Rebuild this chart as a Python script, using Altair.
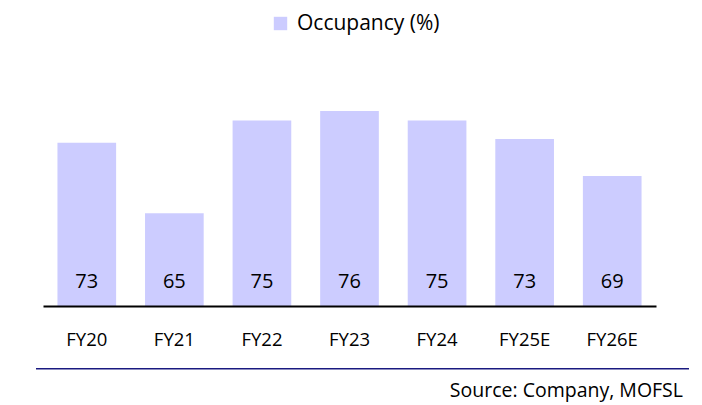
import altair as alt
import pandas as pd

years = ["FY20", "FY21", "FY22", "FY23", "FY24", "FY25E", "FY26E"]
occupancy = [72.6, 65.0, 75.0, 76.0, 75.0, 73.0, 69.0]
labels = ["73", "65", "75", "76", "75", "73", "69"]
series_name = "Occupancy (%)"
source_note = "Source: Company, MOFSL"

df = pd.DataFrame({
    "year": years,
    "occ": occupancy,
    "label": labels,
    "series": [series_name] * len(years),
})

FONT = "Open Sans"
BAR = "#CCCCFF"

x_enc = alt.X(
    "year:N", sort=years,
    scale=alt.Scale(paddingInner=0.33, paddingOuter=0.165),
    axis=alt.Axis(title=None, labelAngle=0, labelFont=FONT, labelFontSize=18.5,
                  labelColor="black", domainColor="black", domainWidth=2,
                  ticks=False, tickSize=0, labelPadding=39,
                  labelBaseline="alphabetic", grid=False, zindex=1),
)
y_scale = alt.Scale(domain=[55, 80], zero=False, nice=False, clamp=True)

base = alt.Chart(df)

bars = base.mark_bar().encode(
    x=x_enc,
    y=alt.Y("occ:Q", scale=y_scale, axis=None),
    y2=alt.Y2Datum(55),
    color=alt.Color(
        "series:N",
        scale=alt.Scale(range=[BAR]),
        legend=alt.Legend(
            title=None, orient="none", legendX=227, legendY=-61,
            symbolType="square", symbolSize=180, symbolStrokeWidth=0,
            labelFont=FONT, labelFontSize=21, labelColor="black",
            labelOffset=6, padding=0,
        ),
    ),
)

text = base.mark_text(font=FONT, fontSize=20, color="black",
                      baseline="alphabetic", dy=-18).encode(
    x=alt.X("year:N", sort=years),
    y=alt.YDatum(55),
    text="label:N",
)

note_df = pd.DataFrame({"t": [source_note]})
note = alt.Chart(note_df).mark_text(font=FONT, fontSize=19.5, color="black",
                                    align="right", baseline="alphabetic").encode(
    x=alt.value(640), y=alt.value(322.5), text="t:N"
)
rule = alt.Chart(note_df).mark_rule(color="#1a1a80", strokeWidth=1.5).encode(
    x=alt.value(-7), x2=alt.value(646), y=alt.value(294.75)
)

chart = alt.layer(bars, text, rule, note).properties(
    width=613, height=232,
    autosize=alt.AutoSizeParams(type="none"),
    padding={"left": 35, "top": 66, "right": 38, "bottom": 99},
).configure_view(stroke=None)

chart.save("out.html", embed_options={"renderer": "svg", "actions": False})
